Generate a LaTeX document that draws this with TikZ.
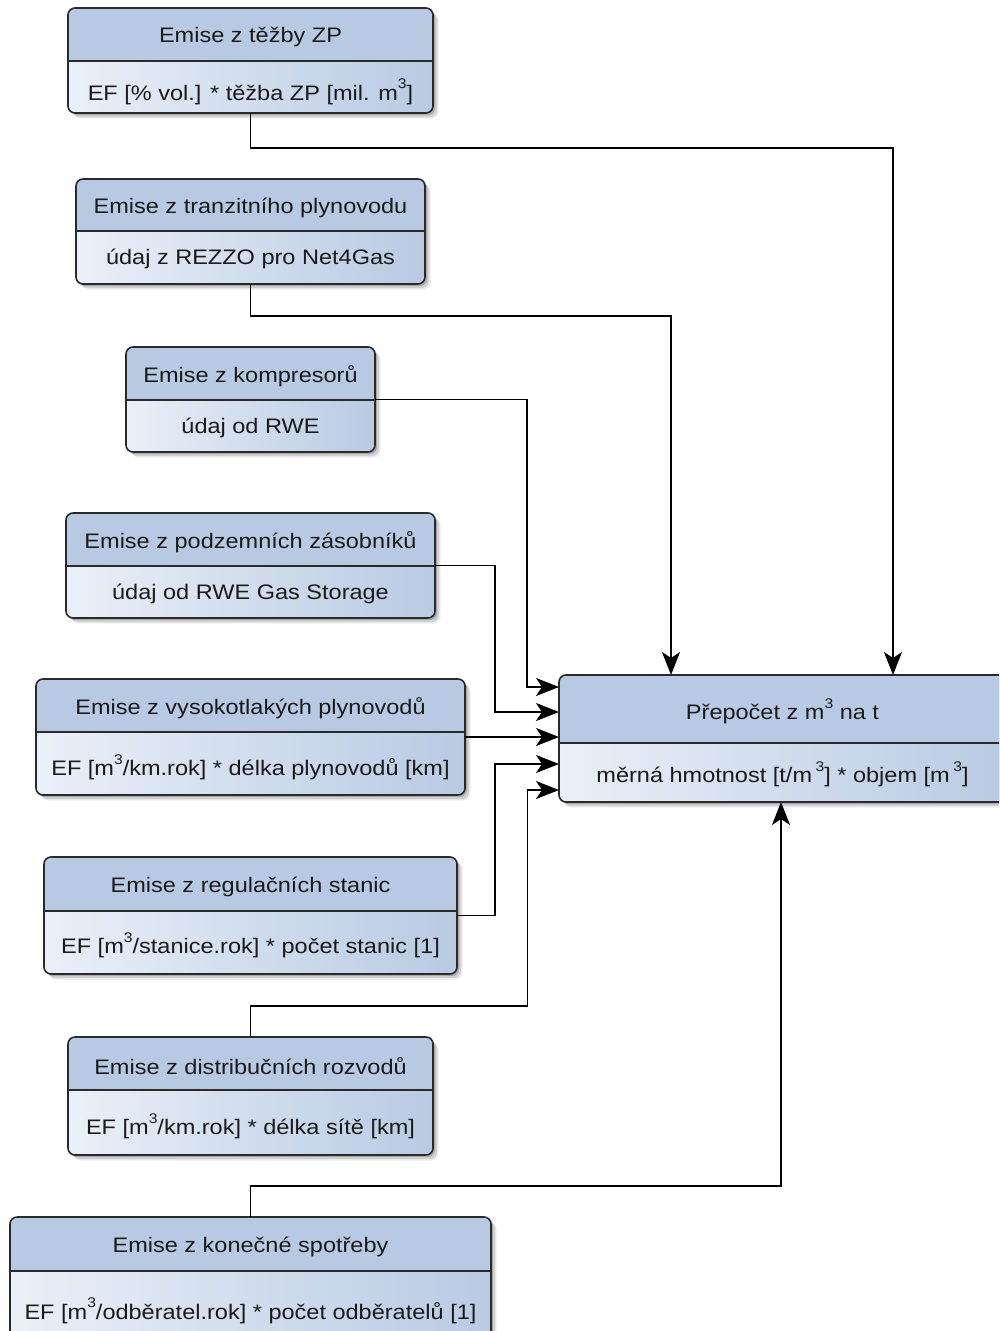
\documentclass[tikz,border=0pt]{standalone}
\usepackage{fontspec}
\setmainfont[FakeStretch=1.12]{Liberation Sans}
\usetikzlibrary{arrows.meta,shadows,calc}

\definecolor{hdr}{HTML}{B8CAE3}
\definecolor{lite}{HTML}{EAF0F8}
\definecolor{edge}{HTML}{2A2A2A}
\definecolor{ink}{HTML}{1A1A1A}

% small raised "3" for cubic metres
\newcommand{\upthree}{\raisebox{0.55em}{\fontsize{14}{14}\selectfont 3}}

\tikzset{
  lane/.style={rectangle, rounded corners=7pt, fill=hdr, inner sep=0pt, outer sep=0pt,
    drop shadow={shadow xshift=2pt, shadow yshift=-2pt, opacity=.18, fill=black},
    drop shadow={shadow xshift=4pt, shadow yshift=-4pt, opacity=.12, fill=black},
    drop shadow={shadow xshift=5.5pt, shadow yshift=-5.5pt, opacity=.07, fill=black}},
  rim/.style={draw=edge, line width=1.6pt},
  txt/.style={font=\fontsize{21}{24}\selectfont, text=ink, inner sep=0pt},
  arr/.style={draw=black, line width=1.6pt, -{Stealth[length=23pt, width=18pt, inset=6pt]}},
}

% #1 name, #2 left, #3 top, #4 right, #5 bottom, #6 divider, #7 title, #8 body, #9 body drop
\newcommand{\lanebox}[9]{%
  \node[lane, minimum width={(#4-#2)*1pt}, minimum height={(#5-#3)*1pt}]
    (#1) at ({(#2+#4)/2},{(#3+#5)/2}) {};
  \begin{scope}
    \clip (#2-3,#6) rectangle (#4+3,#5+3);
    \shade[left color=lite, right color=hdr, rounded corners=7pt] (#2,#3) rectangle (#4,#5);
  \end{scope}
  \draw[rim] (#2,#6) -- (#4,#6);
  \draw[rim, rounded corners=7pt] (#2,#3) rectangle (#4,#5);
  \node[txt] (#1-t) at ({(#2+#4)/2},{(#3+#6)/2+2.5}) {#7};
  \node[txt] (#1-b) at ({(#2+#4)/2},{(#6+#5)/2+#9}) {#8};
}

\begin{document}
\begin{tikzpicture}[x=1pt, y=-1pt]
\useasboundingbox (0,0) rectangle (999,1331);
\clip (0,0) rectangle (999,1331);
\fill[white] (0,0) rectangle (999,1331);

\lanebox{b1}{68}{8}{433}{113}{61}{Emise z těžby ZP}{EF [\% vol.] * těžba ZP [mil. m\upthree]}{5}
\lanebox{b2}{76}{179}{425}{284}{231}{Emise z tranzitního plynovodu}{údaj z REZZO pro Net4Gas}{1.5}
\lanebox{b3}{126}{347}{375}{452}{400}{Emise z kompresorů}{údaj od RWE}{1.5}
\lanebox{b4}{66}{513}{435}{618}{566}{Emise z podzemních zásobníků}{údaj od RWE Gas Storage}{1.5}
\lanebox{b5}{36}{679}{465}{795}{732}{Emise z vysokotlakých plynovodů}{EF [m\upthree/km.rok] * délka plynovodů [km]}{4}
\lanebox{b6}{44}{857}{457}{974}{911}{Emise z regulačních stanic}{EF [m\upthree/stanice.rok] * počet stanic [1]}{3}
\lanebox{b7}{68}{1037}{433}{1155}{1090}{Emise z distribučních rozvodů}{EF [m\upthree/km.rok] * délka sítě [km]}{4}
\lanebox{b8}{10}{1217}{491}{1342}{1271}{Emise z konečné spotřeby}{EF [m\upthree/odběratel.rok] * počet odběratelů [1]}{4}
\lanebox{T}{559}{675}{1006}{802}{743}{Přepočet z m\upthree\ na t}{měrná hmotnost [t/m\,\upthree] * objem [m\,\upthree]}{2}

% connectors into the conversion box
\draw[arr] (b1.south) -- ++(0,35) -| ([xshift=334pt]T.north west);
\draw[arr] (b2.south) -- ++(0,32) -| ([xshift=112pt]T.north west);
\draw[arr] (b3.east) -- ++(152,0) |- ([yshift=51.5pt]T.west);
\draw[arr] (b4.east) -- ++(60,0) |- ([yshift=26.5pt]T.west);
\draw[arr] (b5.east) -- (b5.east -| T.west);
\draw[arr] (b6.east) -- ++(38,0) |- ([yshift=-25.5pt]T.west);
\draw[arr] (b7.north) -- ++(0,-31) -- ++(277,0) |- ([yshift=-51.5pt]T.west);
\draw[arr] (b8.north) -- ++(0,-31) -| ([xshift=222pt]T.south west);
\end{tikzpicture}
\end{document}
